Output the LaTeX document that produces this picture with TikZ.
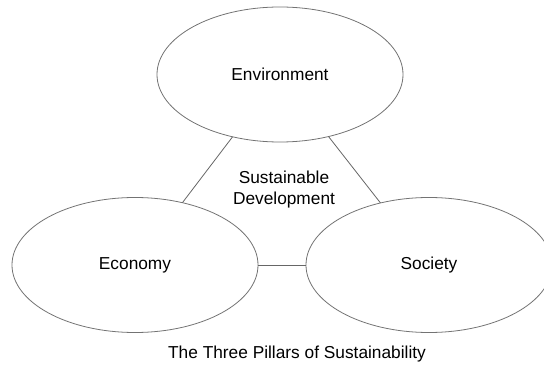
\documentclass[tikz,border=0pt]{standalone}
\usepackage{fontspec}
\setmainfont{Liberation Sans}
\usepackage{tikz}
\usetikzlibrary{shapes.geometric, positioning}

\begin{document}
\begin{tikzpicture}[
		x=1pt, y=-1pt,
		pilier/.style={ellipse, draw=black!55, line width=0.8pt, inner sep=0pt, outer sep=0pt,
			minimum width=246pt, minimum height=135pt, font=\fontsize{17.3}{21}\selectfont},
		lien/.style={draw=black!60, line width=0.8pt},
		texte/.style={font=\fontsize{17.3}{21}\selectfont, align=center}
		]
		
		% Le cadre
		\useasboundingbox (0,0) rectangle (544,374);
		
		% Les piliers
		\node[pilier] (env) at (280, 74.5) {Environment};
		\node[pilier] (econ) at (135, 265) {Economy};
		\node[pilier] (soc) at (429, 265) {Society};
		
		% Le centre et la legende
		\node[texte] (dev) at (284, 190) {Sustainable\\Development};
		\node[texte] (titre) at (297, 354) {The Three Pillars of Sustainability};
		
		% Les liens
		\draw[lien] (env) -- (econ);
		\draw[lien] (env) -- (soc);
		\draw[lien] (econ) -- (soc);
	\end{tikzpicture}
\end{document}
